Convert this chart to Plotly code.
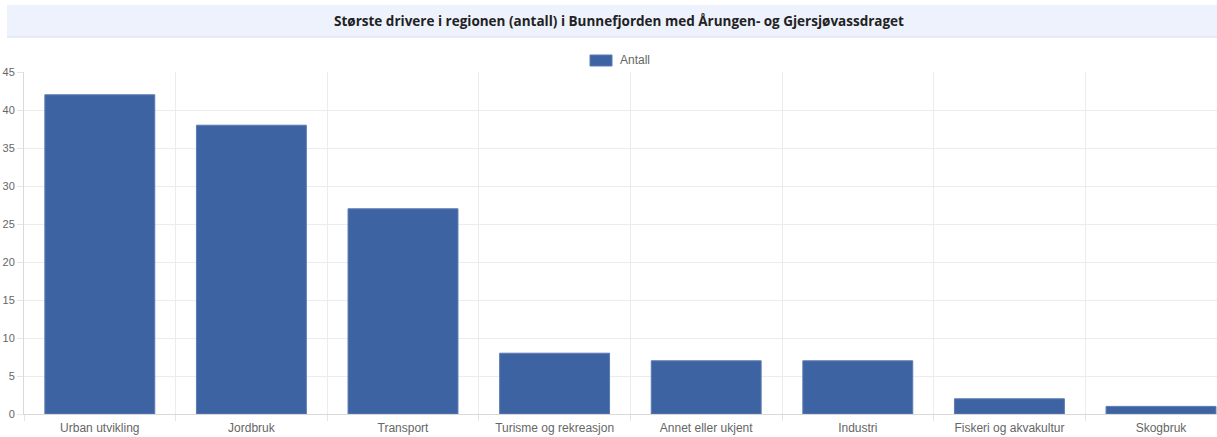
import plotly.graph_objects as go

categories = ["Urban utvikling", "Jordbruk", "Transport", "Turisme og rekreasjon",
              "Annet eller ukjent", "Industri", "Fiskeri og akvakultur", "Skogbruk"]
values = [42, 38, 27, 8, 7, 7, 2, 1]
title_text = "Største drivere i regionen (antall) i Bunnefjorden med Årungen- og Gjersjøvassdraget"
series_name = "Antall"

W, H = 1217, 437
L, R, T, B = 24, 0, 72, 23
pw, ph = W - L - R, H - T - B
BAR_COLOR = "#3e63a3"


def px(x):
    return (x - L) / pw


def py(y):
    return (H - B - y) / ph


fig = go.Figure()
fig.add_trace(go.Bar(
    x=categories, y=values, name=series_name,
    marker=dict(color=BAR_COLOR, line=dict(color="#5a7bb3", width=1)),
    showlegend=False,
))

fig.update_layout(
    width=W, height=H,
    margin=dict(l=L, r=R, t=T, b=B, autoexpand=False),
    paper_bgcolor="white", plot_bgcolor="white",
    font=dict(family="Liberation Sans, Arial, sans-serif", size=11, color="#666"),
    bargap=0.275,
    showlegend=False,
    xaxis=dict(
        range=[-0.5, -0.5 + pw / 151.6],
        tickson="boundaries", ticks="outside", ticklen=6, tickcolor="#e5e5e5",
        showgrid=True, gridcolor="#ececec", gridwidth=1,
        showline=True, linecolor="#d9d9d9", linewidth=1,
        tickfont=dict(size=12, color="#666"),
        ticklabelstandoff=3,
        automargin=False, fixedrange=True,
    ),
    yaxis=dict(
        range=[0, 45], dtick=5, tick0=0,
        ticks="outside", ticklen=6, tickcolor="#e5e5e5",
        showgrid=True, gridcolor="#ececec", gridwidth=1,
        showline=True, linecolor="#d9d9d9", linewidth=1,
        zeroline=False, automargin=False, fixedrange=True,
        tickfont=dict(size=11, color="#666"),
    ),
    shapes=[
        dict(type="rect", xref="paper", yref="paper",
             x0=px(7), x1=px(W), y0=py(37), y1=py(5),
             fillcolor="#edf2fd", line=dict(width=0), layer="below"),
        dict(type="line", xref="paper", yref="paper",
             x0=px(7), x1=px(W), y0=py(37), y1=py(37),
             line=dict(color="#d6dde8", width=1)),
        # legend swatch
        dict(type="rect", xref="paper", yref="paper",
             x0=px(590), x1=px(612), y0=py(66), y1=py(55),
             fillcolor=BAR_COLOR, line=dict(color="#5a7bb3", width=1)),
    ],
    annotations=[
        dict(text="<b>" + title_text + "</b>", xref="paper", yref="paper",
             x=px(619), y=py(21), xanchor="center", yanchor="middle",
             showarrow=False, font=dict(family="Open Sans, Liberation Sans, sans-serif",
                                        size=13.5, color="#222")),
        dict(text=series_name, xref="paper", yref="paper",
             x=px(618), y=py(60.5), xanchor="left", yanchor="middle",
             showarrow=False, font=dict(size=12, color="#666")),
    ],
)

fig.write_html(
    "out.html",
    config={"displayModeBar": False},
    post_script="document.body.style.margin='0';document.body.style.overflow='hidden';",
)
